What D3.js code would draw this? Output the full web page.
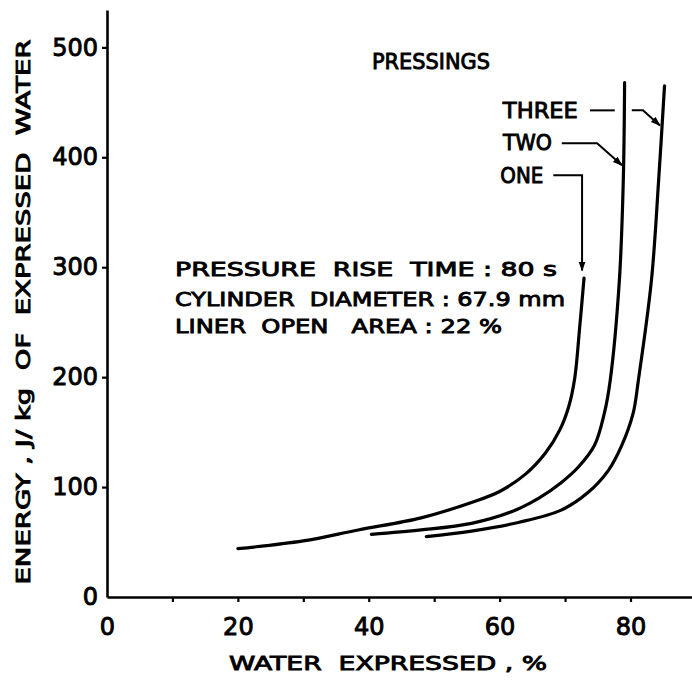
<!DOCTYPE html>
<html>
<head>
<meta charset="utf-8">
<script src="https://cdn.jsdelivr.net/npm/d3@7"></script>
<style>
  body { margin: 0; background: #fff; }
  text { font-family: "DejaVu Sans", "Liberation Sans", sans-serif; fill: #000; stroke: #000; stroke-width: 0.9px; white-space: pre; }
</style>
</head>
<body>
<div id="chart"></div>
<script>
// Energy vs water expressed, one curve per number of pressings
const pressOne = [[20, 44], [30, 51], [38.4, 61], [48, 72], [55.7, 86], [60, 96], [64, 112], [67, 131],
  [69.2, 152], [70.6, 174], [71.5, 200], [72.2, 243], [72.9, 290]];
const pressTwo = [[40.4, 57], [48, 61], [55.7, 67], [62, 78], [66, 90], [69.4, 104], [72, 118],
  [74.5, 138], [76, 167], [76.9, 197], [78.3, 288], [78.9, 379], [79.1, 468]];
const pressThree = [[48.8, 55], [55.7, 60], [63, 68], [69.4, 79], [73.5, 95], [76.6, 115], [78.6, 137],
  [80.4, 167], [81.2, 197], [83.2, 288], [84.3, 379], [85.2, 465]];

const xTicks = [0, 10, 20, 30, 40, 50, 60, 70, 80];
const xLabels = [0, 20, 40, 60, 80];
const yTicks = [0, 100, 200, 300, 400, 500];

const infoLines = ["PRESSURE  RISE  TIME : 80 s", "CYLINDER  DIAMETER : 67.9 mm", "LINER  OPEN   AREA : 22 %"];

const width = 692, height = 681;
const svg = d3.select("#chart").append("svg")
  .attr("width", width)
  .attr("height", height);

const x = d3.scaleLinear().domain([0, 89.4]).range([107, 692]);
const y = d3.scaleLinear().domain([0, 534]).range([597, 10]);

// arrow head
svg.append("defs").append("marker")
  .attr("id", "arr")
  .attr("viewBox", "0 0 10 10")
  .attr("refX", 9).attr("refY", 5)
  .attr("markerWidth", 5).attr("markerHeight", 5)
  .attr("orient", "auto")
  .append("path")
  .attr("d", "M0,1.5 L10,5 L0,8.5 Z")
  .attr("fill", "#000");

// Axes
const xAxis = svg.append("g")
  .attr("transform", `translate(0,${y(0)})`)
  .call(d3.axisBottom(x).tickValues(xTicks).tickSize(5).tickSizeOuter(0).tickPadding(16)
    .tickFormat(d => xLabels.includes(d) ? d : ""));
const yAxis = svg.append("g")
  .attr("transform", `translate(${x(0)},0)`)
  .call(d3.axisLeft(y).tickValues(yTicks).tickSize(5).tickSizeOuter(0).tickPadding(4));

[xAxis, yAxis].forEach(g => {
  g.select(".domain").attr("stroke", "#000").attr("stroke-width", 2.6);
  g.selectAll(".tick line").attr("stroke", "#000").attr("stroke-width", 2.2);
  g.selectAll(".tick text")
    .attr("font-size", 24)
    .style("font-family", "'DejaVu Sans', sans-serif")
    .style("stroke", "#000")
    .style("stroke-width", "0.9px");
});
xAxis.selectAll(".tick").filter(d => d === 0).select("line").remove();
yAxis.selectAll(".tick").filter(d => d === 0).select("line").remove();

// Axis titles
svg.append("text")
  .attr("x", 388)
  .attr("y", 670)
  .attr("text-anchor", "middle")
  .attr("font-size", 20)
  .attr("textLength", 318)
  .attr("lengthAdjust", "spacingAndGlyphs")
  .text("WATER  EXPRESSED , %");

svg.append("text")
  .attr("transform", "rotate(-90)")
  .attr("x", -312)
  .attr("y", 30)
  .attr("text-anchor", "middle")
  .attr("font-size", 20)
  .attr("textLength", 545)
  .attr("lengthAdjust", "spacingAndGlyphs")
  .text("ENERGY , J/ kg  OF  EXPRESSED  WATER");

// Curves
const line = d3.line()
  .x(d => x(d[0]))
  .y(d => y(d[1]))
  .curve(d3.curveCatmullRom.alpha(0.5));

[pressOne, pressTwo, pressThree].forEach(s => {
  svg.append("path")
    .datum(s)
    .attr("d", line)
    .attr("fill", "none")
    .attr("stroke", "#000")
    .attr("stroke-width", 3.2)
    .attr("stroke-linecap", "round");
});

// Labels
svg.append("text")
  .attr("x", x(40.5)).attr("y", y(480))
  .attr("font-size", 21)
  .attr("textLength", 118)
  .attr("lengthAdjust", "spacingAndGlyphs")
  .text("PRESSINGS");

const curveLabels = [
  {name: "THREE", lx: 60.5, ly: 436, w: 75},
  {name: "TWO", lx: 60.5, ly: 407, w: 49},
  {name: "ONE", lx: 60.1, ly: 377, w: 43}
];
curveLabels.forEach(d => {
  svg.append("text")
    .attr("x", x(d.lx)).attr("y", y(d.ly))
    .attr("font-size", 21)
    .attr("textLength", d.w)
    .attr("lengthAdjust", "spacingAndGlyphs")
    .text(d.name);
});

// Leader lines in data units
const leaders = [
  {pts: [[73.8, 442.7], [77.6, 442.7]], arrow: false},
  {pts: [[80.2, 442.7], [81.9, 442.7], [84.5, 429]], arrow: true},
  {pts: [[69.5, 412.7], [74.9, 412.7], [78.7, 392.7]], arrow: true},
  {pts: [[68.2, 383.6], [72.6, 383.6], [72.6, 297]], arrow: true}
];
const leaderLine = d3.line().x(d => x(d[0])).y(d => y(d[1]));
leaders.forEach(l => {
  svg.append("path")
    .attr("d", leaderLine(l.pts))
    .attr("fill", "none")
    .attr("stroke", "#000")
    .attr("stroke-width", 2)
    .attr("marker-end", l.arrow ? "url(#arr)" : null);
});

// Test conditions block
const infoW = [382, 390, 327];
const infoY = [292, 265, 240];
infoLines.forEach((t, i) => {
  svg.append("text")
    .attr("x", x(10.4)).attr("y", y(infoY[i]))
    .attr("font-size", 20)
    .attr("textLength", infoW[i])
    .attr("lengthAdjust", "spacingAndGlyphs")
    .text(t);
});
</script>
</body>
</html>
